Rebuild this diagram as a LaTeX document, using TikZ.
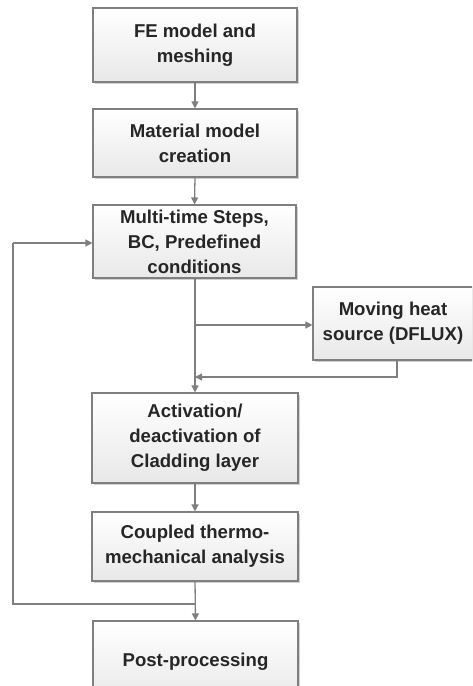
\documentclass[tikz,border=0pt]{standalone}
\usepackage{fontspec}
\setmainfont{Liberation Sans}
\usetikzlibrary{arrows.meta,shadows}
\definecolor{linegray}{HTML}{7F7F7F}
\definecolor{txt}{HTML}{262626}
\tikzset{
  box/.style={draw=linegray, line width=1.1pt, top color=white, bottom color=black!9,
    align=center, inner sep=0pt, font=\fontsize{18.6}{25}\selectfont\bfseries, text=txt,
    drop shadow={shadow xshift=1.5pt, shadow yshift=-1.5pt, opacity=0.18, fill=black}},
  conn/.style={draw=linegray, line width=1.3pt},
  arr/.style={conn, -{Triangle[length=7pt,width=7pt]}}
}
\begin{document}
\begin{tikzpicture}[x=1pt,y=-1pt]
\path[use as bounding box, clip] (0,0) rectangle (472,686);
\node[box, minimum width=204pt, minimum height=74pt] (b1) at (195,45) {FE model and\\meshing};
\node[box, minimum width=204pt, minimum height=68pt] (b2) at (195,143) {Material model\\creation};
\node[box, minimum width=203pt, minimum height=73pt] (b3) at (194.5,241.5) {Multi-time Steps,\\BC, Predefined\\conditions};
\node[box, minimum width=160pt, minimum height=73pt] (b7) at (393,323.5) {Moving heat\\source (DFLUX)};
\node[box, minimum width=206pt, minimum height=90pt] (b4) at (195,438) {Activation/\\deactivation of\\Cladding layer};
\node[box, minimum width=206pt, minimum height=69pt] (b5) at (195,546.5) {Coupled thermo-\\mechanical analysis};
\node[box, minimum width=205pt, minimum height=82pt] (b6) at (195.5,662) {Post-processing};
\coordinate (br) at (195,325);
\coordinate (rt) at (397,377);
\coordinate (jn) at (195,377);
\coordinate (lp) at (195,604);
\coordinate (lpl) at (13,604);
\coordinate (lpu) at (13,243);
\draw[arr] (b1.south) -- (b2.north);
\draw[arr] (b2.south) -- (b3.north);
\draw[arr] (b3.south -| b4.north) -- (b4.north);
\draw[arr] (br) -- (b7.west |- br);
\draw[arr] (b7.south -| rt) -- (rt) -- (jn);
\draw[arr] (b4.south) -- (b5.north);
\draw[arr] (b5.south) -- (b6.north);
\draw[conn] (lp) -- (lpl) -- (lpu);
\draw[arr] (lpu) -- (b3.west |- lpu);
\end{tikzpicture}
\end{document}
